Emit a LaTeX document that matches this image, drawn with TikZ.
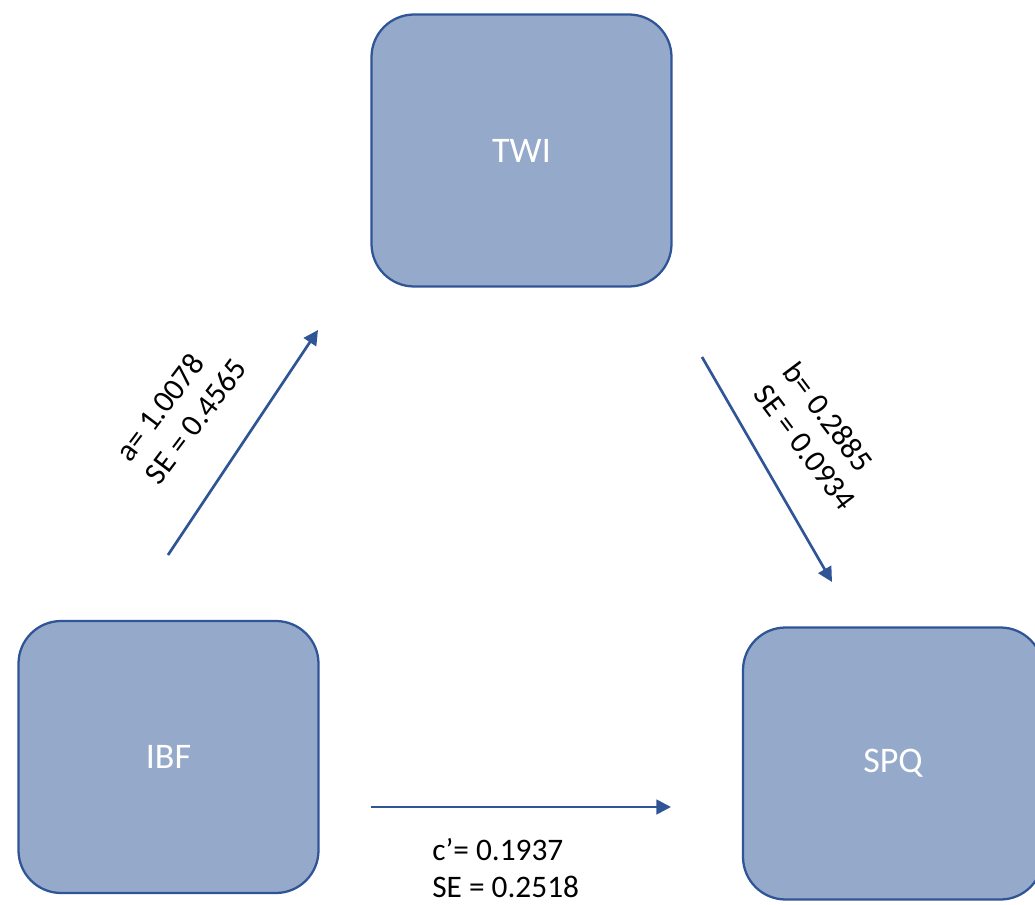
\documentclass[tikz,border=0pt]{standalone}
\usepackage{fontspec}
\setmainfont{Carlito}
\usetikzlibrary{arrows.meta}
\definecolor{boxfill}{RGB}{149,169,202}
\definecolor{boxline}{RGB}{47,85,151}

\begin{document}
\begin{tikzpicture}[
            x=0.75pt,y=-0.75pt,
            ->,>={Triangle[length=11pt,width=11pt]},
            var/.style={draw=boxline,line width=1.7pt,fill=boxfill,rounded corners=32pt,
                minimum width=225pt,minimum height=204pt,text=white,
                font=\fontsize{27}{32}\selectfont},
            coef/.style={align=left,font=\fontsize{23.5}{27.5}\selectfont},
            flow/.style={every edge/.append style={draw=boxline,line width=2pt}}
        ]
        \useasboundingbox (0,0) rectangle (1035,905);
        \node[var] (twi) at (521.5,150.5) {TWI};
        \node[var] (ibf) at (168.5,757) {IBF};
        \node[var] (spq) at (893,763.5) {SPQ};
        \coordinate (a0) at (168,555);
        \coordinate (a1) at (318,330);
        \coordinate (b0) at (702,357);
        \coordinate (b1) at (832,582);
        \coordinate (c0) at (371,807);
        \coordinate (c1) at (671,807);
        \path[flow] (a0) edge (a1)
        (b0) edge (b1)
        (c0) edge (c1);
        \node[coef,rotate=53] (alab) at (181,410) {a= 1.0078\\SE = 0.4565};
        \node[coef,rotate=-53] (blab) at (820,436) {b= 0.2885\\SE = 0.0934};
        \node[coef,anchor=west,inner sep=0pt] (clab) at (432,868) {c’= 0.1937\\SE = 0.2518};
        \end{tikzpicture}
\end{document}
